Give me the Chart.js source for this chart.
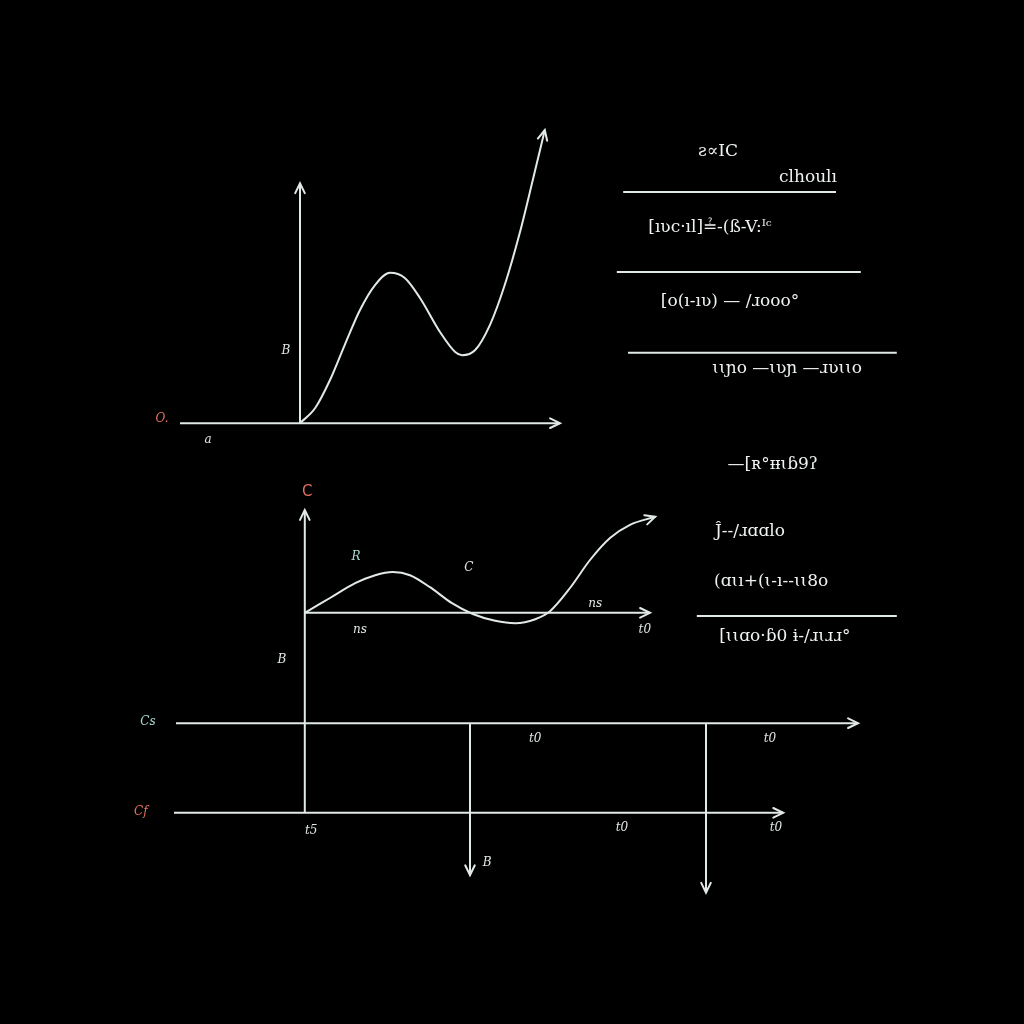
<!DOCTYPE html>
<html>
<head>
<meta charset="utf-8">
<script src="https://cdn.jsdelivr.net/npm/chart.js@4.4.1/dist/chart.umd.min.js"></script>
<style>
	html, body { margin: 0; padding: 0; background: #000; }
	#wrap { width: 1024px; height: 1024px; position: relative; }
</style>
</head>
<body>
<div id="wrap"><canvas id="board"></canvas></div>
<script>
// Board units: x 0..128 (left to right), y 0..128 (bottom to top)

// upper plot
var upperAxisYX = [37.5, 37.5];
var upperAxisYY = [75.1, 105.1];
var upperAxisXX = [22.5, 70];
var upperAxisXY = [75.1, 75.1];
var upperCurveX = [37.5, 39.4, 41.25, 43.1, 45, 46.9, 48.75, 50.6, 52.5, 55, 56.9, 57.75, 59.4, 61.25, 63.1, 65, 66.6, 68.1];
var upperCurveY = [75.1, 77.0, 80.5, 84.9, 89.25, 92.4, 93.9, 93.25, 90.75, 86.5, 84, 83.6, 84.25, 87.4, 92.4, 99, 105.5, 111.75];

// middle plot
var midAxisYX = [38.1, 38.1];
var midAxisYY = [26.4, 64.25];
var midAxisXX = [38.1, 81.25];
var midAxisXY = [51.4, 51.4];
var midCurveX = [38.1, 41.25, 44.4, 46.9, 49.1, 51.25, 53.75, 56.5, 59.1, 61.9, 64.4, 66.9, 68.75, 71.25, 73.75, 76.25, 78.75, 81.9];
var midCurveY = [51.4, 53.25, 55.1, 56.1, 56.5, 56.1, 54.6, 52.6, 51.25, 50.4, 50.1, 50.6, 51.6, 54.5, 58, 60.75, 62.4, 63.4];

// timeline rails
var railCsX = [22, 107.25];
var railCsY = [37.6, 37.6];
var railCfX = [21.75, 97.9];
var railCfY = [26.4, 26.4];
var dropAX = [58.75, 58.75];
var dropAY = [37.6, 18.6];
var dropBX = [88.25, 88.25];
var dropBY = [37.6, 16.4];

// rules in the formula column
var ruleStartX = [77.9, 77.1, 78.5, 87.1];
var ruleEndX = [104.5, 107.6, 112.1, 112.1];
var ruleY = [104, 94, 83.9, 51];

// formula column text
var formulaText = ['ƨ∝ΙC', 'clhoulı', '[ıʋc·ıl]≟-(ß-V:ᴵᶜ', '[o(ı-ıʋ) — /ɹooo°', 'ɩɩɲo —ɩʋɲ —ɹʋɩɩo',
	'—[ʀ°ᵻᵻɩɓ9ʔ', 'Ĵ--/ɹɑɑlo', '(ɑɩı+(ɩ-ı--ɩɩ8o', '[ɩɩɑo·ɓ0 ɨ-/ɹɩɹɹ°'];
var formulaX = [89.75, 101, 88.75, 91.25, 98.4, 96.6, 93.75, 96.4, 98.1];
var formulaY = [109, 105.75, 99.5, 90.25, 81.9, 69.9, 61.5, 55.25, 48.4];

// small axis labels
var tagText = ['B', 'O.', 'a', 'C', 'R', 'C', 'ns', 'ns', 't0', 'B', 'Cs', 't0', 't0', 'Cf', 't5', 't0', 't0', 'B'];
var tagX = [35.75, 20.25, 26, 38.4, 44.5, 58.6, 74.4, 45, 80.6, 35.25, 18.5, 66.9, 96.25, 17.6, 38.9, 77.75, 97, 60.9];
var tagY = [84.1, 75.6, 73, 66.5, 58.4, 57, 52.5, 49.25, 49.25, 45.5, 37.75, 35.6, 35.6, 26.5, 24.1, 24.5, 24.5, 20.1];
var tagTone = ['w', 'r', 'w', 'r', 't', 'w', 'w', 'w', 'w', 'w', 't', 'w', 'w', 'r', 'w', 'w', 'w', 'w'];

var chalk = '#e2eae7';
var tones = { w: '#dfe6e3', r: '#e0705c', t: '#a9d9d2' };

function zip(xs, ys) {
	return xs.map(function(x, i) { return { x: x, y: ys[i] }; });
}

function stroke(xs, ys, opts) {
	var ds = {
		data: zip(xs, ys),
		showLine: true,
		borderColor: chalk,
		borderWidth: 2,
		pointRadius: 0,
		tension: 0,
		fill: false
	};
	return Object.assign(ds, opts || {});
}

var smooth = { arrow: true, cubicInterpolationMode: 'monotone' };

var datasets = [
	stroke(upperAxisYX, upperAxisYY, { arrow: true }),
	stroke(upperAxisXX, upperAxisXY, { arrow: true }),
	stroke(upperCurveX, upperCurveY, smooth),
	stroke(midAxisYX, midAxisYY, { arrow: true }),
	stroke(midAxisXX, midAxisXY, { arrow: true }),
	stroke(midCurveX, midCurveY, smooth),
	stroke(railCsX, railCsY, { arrow: true }),
	stroke(railCfX, railCfY, { arrow: true }),
	stroke(dropAX, dropAY, { arrow: true }),
	stroke(dropBX, dropBY, { arrow: true })
];
ruleY.forEach(function(y, i) {
	datasets.push(stroke([ruleStartX[i], ruleEndX[i]], [y, y]));
});

// open chevron at the end of every stroke flagged with arrow
var arrowHeads = {
	id: 'arrowHeads',
	afterDatasetsDraw: function(chart) {
		var ctx = chart.ctx;
		chart.data.datasets.forEach(function(ds, i) {
			if (!ds.arrow) return;
			var pts = chart.getDatasetMeta(i).data;
			var a = pts[pts.length - 2], b = pts[pts.length - 1];
			var ang = Math.atan2(b.y - a.y, b.x - a.x);
			var len = 11, spread = 0.45;
			ctx.save();
			ctx.strokeStyle = chalk;
			ctx.lineWidth = 2;
			ctx.lineCap = 'round';
			ctx.beginPath();
			ctx.moveTo(b.x - len * Math.cos(ang - spread), b.y - len * Math.sin(ang - spread));
			ctx.lineTo(b.x, b.y);
			ctx.lineTo(b.x - len * Math.cos(ang + spread), b.y - len * Math.sin(ang + spread));
			ctx.stroke();
			ctx.restore();
		});
	}
};

// chalk writing placed through the scales
var chalkText = {
	id: 'chalkText',
	afterDatasetsDraw: function(chart) {
		var ctx = chart.ctx;
		var sx = chart.scales.x, sy = chart.scales.y;
		ctx.save();
		ctx.textAlign = 'center';
		ctx.textBaseline = 'middle';
		ctx.fillStyle = '#eef2f0';
		ctx.font = '17px "DejaVu Serif"';
		formulaText.forEach(function(t, i) {
			ctx.fillText(t, sx.getPixelForValue(formulaX[i]), sy.getPixelForValue(formulaY[i]));
		});
		tagText.forEach(function(t, i) {
			ctx.fillStyle = tones[tagTone[i]];
			// the red axis name over the middle plot is upright and larger
			ctx.font = i === 3 ? '15px "DejaVu Sans"' : 'italic 12px "DejaVu Serif"';
			ctx.fillText(t, sx.getPixelForValue(tagX[i]), sy.getPixelForValue(tagY[i]));
		});
		ctx.restore();
	}
};

new Chart(document.getElementById('board'), {
	type: 'scatter',
	data: { datasets: datasets },
	options: {
		responsive: true,
		maintainAspectRatio: false,
		animation: false,
		layout: { padding: 0 },
		plugins: {
			legend: { display: false },
			tooltip: { enabled: false }
		},
		scales: {
			x: { type: 'linear', min: 0, max: 128, display: false },
			y: { type: 'linear', min: 0, max: 128, display: false }
		}
	},
	plugins: [arrowHeads, chalkText]
});
</script>
</body>
</html>
